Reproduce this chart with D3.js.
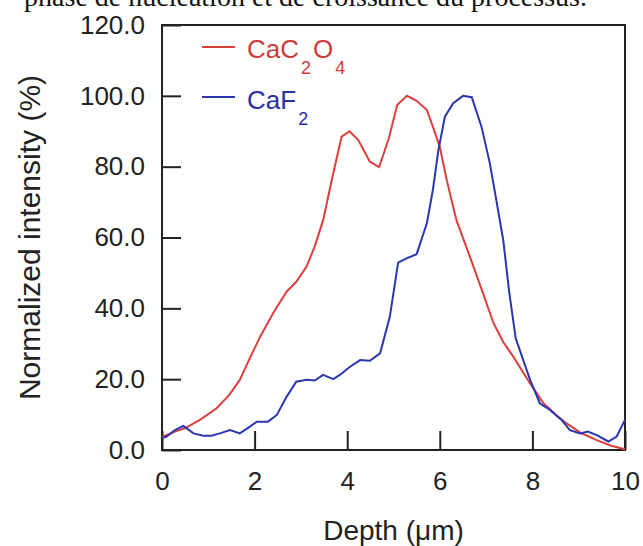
<!DOCTYPE html>
<html>
<head>
<meta charset="utf-8">
<script src="https://cdn.jsdelivr.net/npm/d3@7"></script>
<style>
  body { margin: 0; background: #fff; }
  svg { display: block; }
  text { font-family: "Liberation Sans", Arial, sans-serif; }
</style>
</head>
<body>
<div id="chart"></div>
<script>
// depth (um) and normalized intensity (%)
const oxalateDepth = [0, 0.28, 0.5, 0.82, 1.18, 1.45, 1.68, 1.9, 2.12, 2.4, 2.69, 2.9, 3.12, 3.3, 3.48, 3.7, 3.88, 4.05, 4.24, 4.49, 4.69, 4.9, 5.08, 5.29, 5.5, 5.72, 5.85, 6.0, 6.15, 6.36, 6.65, 6.94, 7.16, 7.37, 7.59, 7.95, 8.24, 8.5, 8.74, 9.05, 9.39, 9.7, 10];
const oxalateValue = [3.7, 5.2, 6.2, 8.5, 11.8, 15.5, 19.8, 26, 32, 38.6, 44.7, 47.5, 51.7, 57.5, 64.9, 78.2, 88.5, 90, 87.5, 81.4, 79.9, 88, 97.4, 100, 98.6, 96, 91.3, 85.6, 76.2, 64.9, 54.6, 44, 35.8, 30.5, 26.3, 18.8, 13.2, 10, 7.5, 4.8, 2.8, 1.2, 0.2];

const fluorideDepth = [0, 0.1, 0.28, 0.46, 0.68, 0.89, 1.07, 1.25, 1.47, 1.68, 1.9, 2.05, 2.29, 2.48, 2.69, 2.9, 3.12, 3.3, 3.48, 3.7, 3.84, 4.06, 4.28, 4.49, 4.71, 4.92, 5.1, 5.28, 5.5, 5.72, 5.85, 5.97, 6.11, 6.29, 6.5, 6.69, 6.9, 7.08, 7.22, 7.37, 7.5, 7.64, 7.95, 8.16, 8.38, 8.63, 8.81, 9.03, 9.2, 9.39, 9.64, 9.82, 10];
const fluorideValue = [3.4, 3.8, 5.6, 6.8, 4.7, 4.0, 4.0, 4.7, 5.6, 4.7, 6.6, 8.0, 8.0, 9.9, 15.0, 19.3, 19.8, 19.6, 21.2, 20.0, 21.2, 23.5, 25.4, 25.2, 27.3, 37.6, 52.9, 54.1, 55.3, 64, 73.4, 84.7, 94.1, 97.9, 100, 99.6, 91.3, 81, 70.6, 59.3, 44.5, 31.5, 19.8, 13.2, 11.3, 8.5, 5.6, 4.7, 5.2, 4.2, 2.4, 3.8, 8.5];

const xTicks = [0, 2, 4, 6, 8, 10];
const yTicks = [0, 20, 40, 60, 80, 100, 120];

const width = 643, height = 546;
const margin = { top: 25, right: 18, bottom: 96, left: 162 };
const innerW = width - margin.left - margin.right;
const innerH = height - margin.top - margin.bottom;

const svg = d3.select('#chart').append('svg')
  .attr('width', width)
  .attr('height', height);

// cut-off line of the surrounding document text (clipped at the top, as in the source)
svg.append('text')
  .attr('x', 587)
  .attr('y', 6)
  .attr('text-anchor', 'end')
  .style('font-family', '"Liberation Serif", "Times New Roman", serif')
  .style('font-size', '28px')
  .attr('fill', '#111')
  .text('phase de nucléation et de croissance du processus.');

const g = svg.append('g')
  .attr('transform', `translate(${margin.left},${margin.top})`);

const x = d3.scaleLinear().domain([0, 10]).range([0, innerW]);
const y = d3.scaleLinear().domain([0, 120]).range([innerH, 0]);

const xAxis = g.append('g')
  .attr('transform', `translate(0,${innerH})`)
  .call(d3.axisBottom(x).tickValues(xTicks).tickFormat(d3.format('d'))
    .tickSizeInner(-19).tickSizeOuter(0).tickPadding(22));

const yAxis = g.append('g')
  .call(d3.axisLeft(y).tickValues(yTicks).tickFormat(d3.format('.1f'))
    .tickSizeInner(-19).tickSizeOuter(0).tickPadding(17));

[xAxis, yAxis].forEach(a => {
  a.select('.domain').remove();
  a.selectAll('line').attr('stroke', '#222').attr('stroke-width', 2);
  a.selectAll('text').attr('fill', '#222').style('font-size', '26px');
});

// frame
g.append('rect')
  .attr('x', 0).attr('y', 0)
  .attr('width', innerW).attr('height', innerH)
  .attr('fill', 'none')
  .attr('stroke', '#222')
  .attr('stroke-width', 2);

const line = d3.line()
  .x(d => x(d[0]))
  .y(d => y(d[1]));

const oxalate = oxalateDepth.map((d, i) => [d, oxalateValue[i]]);
const fluoride = fluorideDepth.map((d, i) => [d, fluorideValue[i]]);

g.append('path')
  .datum(oxalate)
  .attr('fill', 'none')
  .attr('stroke', '#dc3f3c')
  .attr('stroke-width', 2)
  .attr('d', line);

g.append('path')
  .datum(fluoride)
  .attr('fill', 'none')
  .attr('stroke', '#2c36b0')
  .attr('stroke-width', 2)
  .attr('d', line);

// legend
const legend = g.append('g');
legend.append('line')
  .attr('x1', 40).attr('x2', 73).attr('y1', 22).attr('y2', 22)
  .attr('stroke', '#dc3f3c').attr('stroke-width', 2);
legend.append('line')
  .attr('x1', 40).attr('x2', 73).attr('y1', 72).attr('y2', 72)
  .attr('stroke', '#2c36b0').attr('stroke-width', 2);

const t1 = legend.append('text')
  .attr('x', 85).attr('y', 33)
  .attr('fill', '#d03a3a')
  .style('font-size', '26px');
t1.append('tspan').text('CaC');
t1.append('tspan').attr('dy', 16).attr('dx', 2).style('font-size', '18px').text('2');
t1.append('tspan').attr('dy', -16).attr('dx', 2).text('O');
t1.append('tspan').attr('dy', 16).attr('dx', 2).style('font-size', '18px').text('4');

const t2 = legend.append('text')
  .attr('x', 85).attr('y', 84)
  .attr('fill', '#2a2f9e')
  .style('font-size', '26px');
t2.append('tspan').text('CaF');
t2.append('tspan').attr('dy', 16).attr('dx', 2).style('font-size', '18px').text('2');

// axis titles
svg.append('text')
  .attr('x', margin.left + innerW / 2)
  .attr('y', 540)
  .attr('text-anchor', 'middle')
  .attr('fill', '#222')
  .style('font-size', '28px')
  .text('Depth (μm)');

svg.append('text')
  .attr('transform', `translate(40,${margin.top + innerH / 2}) rotate(-90)`)
  .attr('text-anchor', 'middle')
  .attr('fill', '#222')
  .style('font-size', '30px')
  .text('Normalized intensity (%)');
</script>
</body>
</html>
